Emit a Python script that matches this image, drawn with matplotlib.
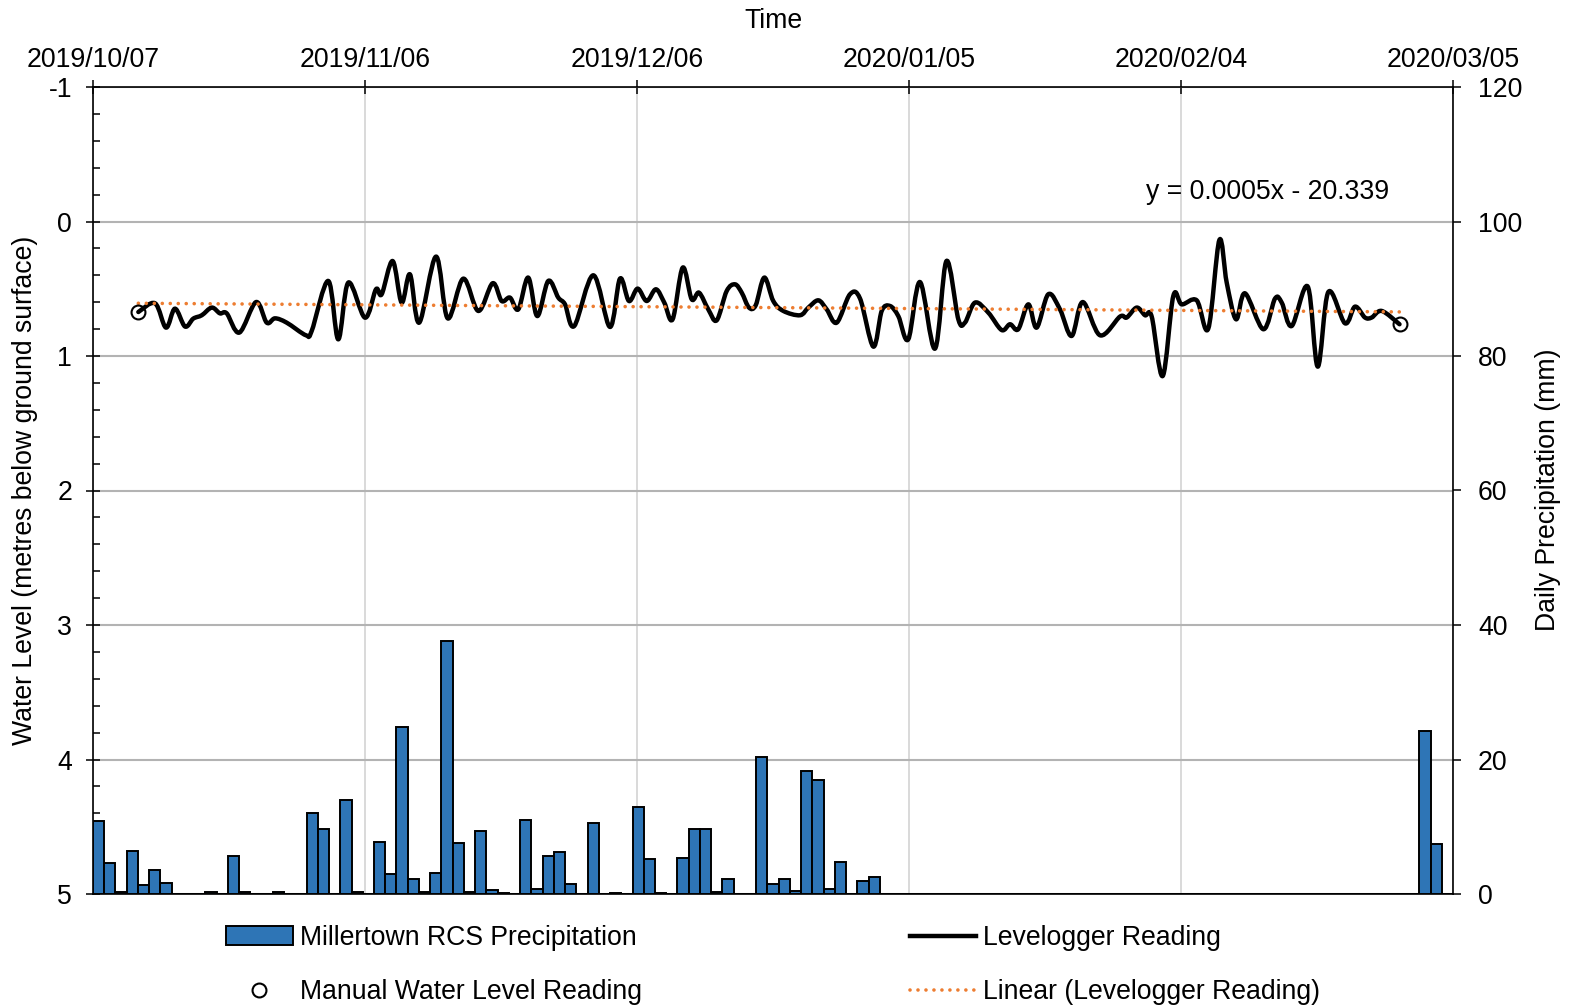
import numpy as np
import matplotlib
matplotlib.use("Agg")
import matplotlib.pyplot as plt
from matplotlib.path import Path
from matplotlib.patches import PathPatch, Patch
from matplotlib.lines import Line2D

plt.rcParams['font.family'] = ['Liberation Sans', 'DejaVu Sans']
plt.rcParams['axes.unicode_minus'] = False

# ---------------- data ----------------
# date axis: days since 2019/10/07
date_tick_days = [0, 30, 60, 90, 120, 150]
date_tick_labels = ["2019/10/07", "2019/11/06", "2019/12/06",
                    "2020/01/05", "2020/02/04", "2020/03/05"]

# Levelogger reading (metres below ground surface)
level_day = [5.00, 6.84, 8.05, 9.04, 10.15, 11.06, 12.00, 13.10, 14.00, 14.75,
             16.14, 17.98, 19.16, 20.07, 21.36, 23.49, 24.12, 25.95, 27.05, 28.16,
             30.00, 31.21, 31.84, 33.05, 34.04, 34.96, 35.98, 37.83, 39.12, 40.84,
             42.50, 44.08, 45.07, 45.99, 46.91, 48.00, 49.00, 50.21, 51.32, 52.06,
             53.08, 55.18, 57.02, 58.12, 59.11, 60.07, 61.07, 62.09, 63.01, 63.93,
             65.04, 66.03, 66.84, 67.86, 68.79, 69.89, 70.81, 71.55, 72.35, 73.09,
             74.04, 75.03, 76.14, 77.98, 78.90, 80.00, 80.92, 82.03, 83.49, 84.60,
             86.06, 86.99, 87.90, 88.82, 89.92, 91.21, 92.87, 94.13, 95.44, 96.17,
             97.28, 98.74, 100.22, 101.14, 102.05, 103.16, 104.08, 105.36, 106.65, 107.94,
             109.16, 111.07, 113.27, 114.01, 115.12, 116.03, 116.77, 117.98, 119.15, 120.08,
             121.73, 123.01, 124.23, 125.04, 126.07, 127.06, 129.08, 130.37, 131.11, 132.21,
             133.98, 135.08, 136.25, 138.09, 139.19, 140.29, 141.03, 142.14, 144.10]
level_m = [0.673, 0.608, 0.789, 0.648, 0.781, 0.722, 0.697, 0.640, 0.683, 0.683,
           0.826, 0.599, 0.752, 0.720, 0.752, 0.846, 0.814, 0.442, 0.876, 0.454,
           0.715, 0.504, 0.541, 0.294, 0.603, 0.393, 0.752, 0.261, 0.720, 0.425,
           0.665, 0.459, 0.591, 0.566, 0.653, 0.417, 0.703, 0.442, 0.566, 0.616,
           0.777, 0.400, 0.784, 0.425, 0.591, 0.499, 0.591, 0.504, 0.603, 0.727,
           0.343, 0.578, 0.529, 0.653, 0.735, 0.517, 0.467, 0.529, 0.640, 0.623,
           0.417, 0.591, 0.665, 0.697, 0.640, 0.586, 0.653, 0.752, 0.541, 0.573,
           0.930, 0.665, 0.628, 0.703, 0.876, 0.450, 0.945, 0.294, 0.727, 0.752,
           0.603, 0.677, 0.807, 0.764, 0.801, 0.616, 0.789, 0.541, 0.653, 0.851,
           0.599, 0.846, 0.707, 0.714, 0.640, 0.697, 0.707, 1.149, 0.554, 0.616,
           0.586, 0.796, 0.138, 0.454, 0.727, 0.534, 0.801, 0.573, 0.603, 0.777,
           0.484, 1.079, 0.524, 0.757, 0.633, 0.714, 0.714, 0.665, 0.764]

# Manual water level readings
manual_day = [5.00, 144.10]
manual_m = [0.673, 0.764]

# Millertown RCS daily precipitation (mm), one value per day
precip_mm = [10.9, 4.6, 0.3, 6.4, 1.4, 3.6, 1.7, 0.0, 0.0, 0.0,
             0.3, 0.0, 5.6, 0.3, 0.0, 0.0, 0.3, 0.0, 0.0, 12.1,
             9.7, 0.0, 14.0, 0.3, 0.0, 7.7, 3.0, 24.9, 2.3, 0.3,
             3.1, 37.6, 7.6, 0.3, 9.4, 0.6, 0.2, 0.0, 11.0, 0.7,
             5.6, 6.2, 1.5, 0.0, 10.6, 0.0, 0.2, 0.0, 12.9, 5.2,
             0.2, 0.0, 5.4, 9.6, 9.7, 0.3, 2.2, 0.0, 0.0, 20.4,
             1.5, 2.2, 0.5, 18.3, 16.9, 0.8, 4.7, 0.0, 2.0, 2.5,
             0.0, 0.0, 0.0, 0.0, 0.0, 0.0, 0.0, 0.0, 0.0, 0.0,
             0.0, 0.0, 0.0, 0.0, 0.0, 0.0, 0.0, 0.0, 0.0, 0.0,
             0.0, 0.0, 0.0, 0.0, 0.0, 0.0, 0.0, 0.0, 0.0, 0.0,
             0.0, 0.0, 0.0, 0.0, 0.0, 0.0, 0.0, 0.0, 0.0, 0.0,
             0.0, 0.0, 0.0, 0.0, 0.0, 0.0, 0.0, 0.0, 24.2, 7.4,
             0.0]

trend_label = "y = 0.0005x - 20.339"

# ---------------- figure ----------------
FS = 19.2
LINE_W = 3.2
TREND_STYLE = (0, (0.01, 2.2))
fig = plt.figure(figsize=(15.72, 10.08), dpi=100)
pos = [93 / 1572, 1 - 894 / 1008, (1453 - 93) / 1572, (894 - 87) / 1008]

ax = fig.add_axes(pos, zorder=1)
axp = fig.add_axes(pos, zorder=2, frameon=False)
axl = fig.add_axes(pos, zorder=3, frameon=False, sharex=ax, sharey=ax)

# main axes: dates on top, water level on left (inverted)
ax.set_xlim(0, 150)
ax.set_ylim(5, -1)
ax.xaxis.tick_top()
ax.set_xticks(date_tick_days)
ax.set_xticklabels(date_tick_labels, fontsize=FS)
ax.set_yticks(range(-1, 6))
ax.set_yticklabels([str(v) for v in range(-1, 6)], fontsize=FS)
ax.set_yticks(np.arange(-1, 5.01, 0.2), minor=True)
ax.tick_params(axis='x', which='major', direction='inout', length=10, width=1.1,
               pad=5, top=True, bottom=False)
ax.tick_params(axis='y', which='major', direction='inout', length=10, width=1.1, pad=10)
ax.tick_params(axis='y', which='minor', direction='in', length=5, width=1.1)
ax.xaxis.grid(True, color='#d9d9d9', lw=1.4)
ax.yaxis.grid(True, color='#b3b3b3', lw=1.5)
ax.set_axisbelow(True)
for s in ax.spines.values():
    s.set_color('black')
    s.set_linewidth(1.2)

# precipitation axes: one category per day, right axis
n_days = len(precip_mm)
axp.set_xlim(0, n_days)
axp.set_ylim(0, 120)
axp.bar(np.arange(n_days) + 0.5, precip_mm, width=1.0, color='#2e75b6',
        edgecolor='black', linewidth=1.4)
axp.set_xticks([])
axp.yaxis.tick_right()
axp.set_yticks(range(0, 121, 20))
axp.tick_params(axis='y', direction='out', length=6, width=1.1, pad=12, labelsize=FS)


# Levelogger line drawn as a smoothed curve through the readings
def smooth_path(xs, ys):
    P = np.column_stack([xs, ys]).astype(float)
    n = len(P)
    verts = [P[0]]
    codes = [Path.MOVETO]
    for i in range(n - 1):
        p0 = P[i - 1] if i > 0 else P[i]
        p1 = P[i]
        p2 = P[i + 1]
        p3 = P[i + 2] if i + 2 < n else P[i + 1]
        verts += [p1 + (p2 - p0) / 6.0, p2 - (p3 - p1) / 6.0, p2]
        codes += [Path.CURVE4] * 3
    return Path(verts, codes)


axl.add_patch(PathPatch(smooth_path(level_day, level_m), fill=False,
                        edgecolor='black', linewidth=LINE_W, joinstyle='round',
                        capstyle='round'))

coef = np.polyfit(level_day, level_m, 1)
tx = np.array([level_day[0], level_day[-1]])
axl.plot(tx, np.polyval(coef, tx), color='#ed7d31', lw=2.6,
         linestyle=TREND_STYLE, dash_capstyle='round')

axl.plot(manual_day, manual_m, linestyle='none', marker='o', markersize=10,
         markerfacecolor='none', markeredgecolor='black', markeredgewidth=1.5)
axl.axis('off')

axl.text(129.6, -0.22, trend_label, fontsize=FS, ha='center', va='center')

# axis titles
fig.text(773 / 1572, 1 - 21 / 1008, "Time", fontsize=FS, ha='center', va='center')
fig.text(25 / 1572, 1 - 490 / 1008, "Water Level (metres below ground surface)",
         fontsize=FS, rotation=90, ha='center', va='center')
fig.text(1548 / 1572, 1 - 490 / 1008, "Daily Precipitation (mm)",
         fontsize=FS, rotation=90, ha='center', va='center')

# legend
handles = [
    Patch(facecolor='#2e75b6', edgecolor='black', linewidth=1.4),
    Line2D([], [], linestyle='none', marker='o', markersize=10,
           markerfacecolor='none', markeredgecolor='black', markeredgewidth=1.5),
    Line2D([], [], color='black', lw=LINE_W),
    Line2D([], [], color='#ed7d31', lw=2.6, linestyle=TREND_STYLE,
           dash_capstyle='round'),
]
labels = ["Millertown RCS Precipitation", "Manual Water Level Reading",
          "Levelogger Reading", "Linear (Levelogger Reading)"]
fig.legend(handles, labels, loc='upper left', bbox_to_anchor=(226 / 1572, 1 - 925 / 1008),
           ncol=2, frameon=False, fontsize=FS, handlelength=2.5, handletextpad=0.26,
           columnspacing=10.05, labelspacing=1.06, borderpad=0, borderaxespad=0)

fig.savefig("out.png", dpi=100)
